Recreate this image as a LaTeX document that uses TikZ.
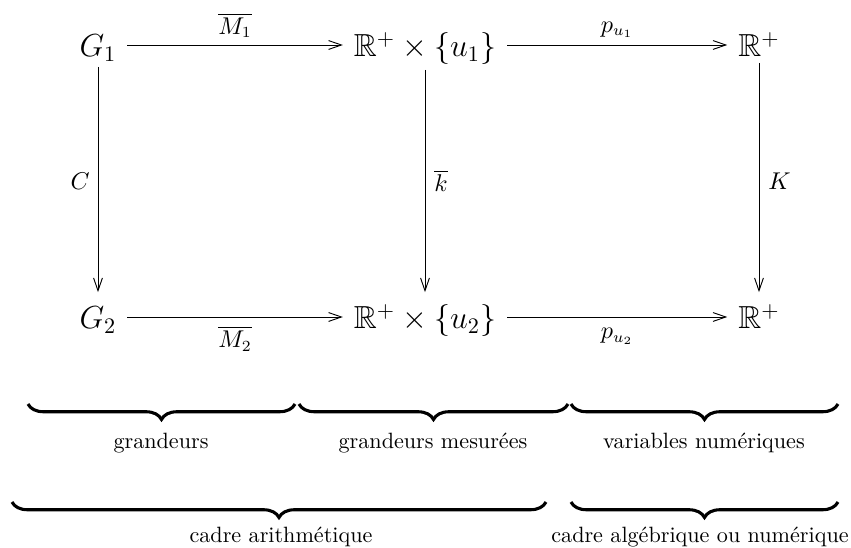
\documentclass[tikz,border=0pt]{standalone}
\usepackage{amssymb}
\usetikzlibrary{arrows.meta,decorations.pathreplacing}
\begin{document}
\begin{tikzpicture}[x=0.4516pt,y=-0.4516pt,
  obj/.style={inner sep=0pt, outer xsep=5pt, outer ysep=0pt, text height=13pt, text depth=2.2pt, font=\fontsize{14.4}{17}\selectfont},
  lab/.style={inner sep=0pt, font=\fontsize{10.5}{12}\selectfont},
  arr/.style={line width=0.42pt, -{Straight Barb[length=5.8pt,width=4pt]}},
  brc/.style={decorate, decoration={brace, mirror, amplitude=7pt}, line width=1.4pt},
  txt/.style={inner sep=0pt, font=\fontsize{10}{12}\selectfont}]
\useasboundingbox (0,0) rectangle (851,548);
% objects
\node[obj] (G1) at (98,45) {$G_1$};
\node[obj] (R1) at (425,45) {$\mathbb{R}^+\times\{u_1\}$};
\node[obj] (P1) at (759,45) {$\mathbb{R}^+$};
\node[obj] (G2) at (98,317) {$G_2$};
\node[obj] (R2) at (425,317) {$\mathbb{R}^+\times\{u_2\}$};
\node[obj] (P2) at (759,317) {$\mathbb{R}^+$};
% arrows
\draw[arr] (G1) -- (R1);
\draw[arr] (R1) -- (P1);
\draw[arr] (G2) -- (R2);
\draw[arr] (R2) -- (P2);
\draw[arr, shorten <=2.3pt, shorten >=3.6pt] (G1) -- (G2);
\draw[arr, shorten <=3.6pt, shorten >=3.6pt] (R1) -- (R2);
\draw[arr, shorten <=0.5pt, shorten >=3.6pt] (P1) -- (P2);
% arrow labels
\path (G1) -- node[lab, anchor=south, yshift=3pt] (lM1) {$\overline{M_1}$} (R1);
\path (R1) -- node[lab, anchor=south, yshift=3pt] (lp1) {$p_{u_1}$} (P1);
\path (G2) -- node[lab, anchor=north, yshift=-4pt] (lM2) {$\overline{M_2}$} (R2);
\path (R2) -- node[lab, anchor=north, yshift=-5pt] (lp2) {$p_{u_2}$} (P2);
\path (G1) -- node[lab, anchor=east, xshift=-3.5pt] (lC) {$C$} (G2);
\path (R1) -- node[lab, anchor=west, xshift=4pt] (lk) {$\overline{k}$} (R2);
\path (P1) -- node[lab, anchor=west, xshift=4pt] (lK) {$K$} (P2);
% braces row 1
\coordinate (a1) at (28,404); \coordinate (a2) at (295,404);
\coordinate (b1) at (299,404); \coordinate (b2) at (568,404);
\coordinate (c1) at (571,404); \coordinate (c2) at (838,404);
\draw[brc] (a1) -- (a2);
\draw[brc] (b1) -- (b2);
\draw[brc] (c1) -- (c2);
\node[txt] (tg) at (161,443) {grandeurs};
\node[txt] (tgm) at (433,443) {grandeurs mesurées};
\node[txt] (tvn) at (704,443) {variables numériques};
% braces row 2
\coordinate (d1) at (12,502); \coordinate (d2) at (546,502);
\coordinate (e1) at (571,502); \coordinate (e2) at (838,502);
\draw[brc] (d1) -- (d2);
\draw[brc] (e1) -- (e2);
\node[txt] (tca) at (281,537) {cadre arithmétique};
\node[txt] (tcn) at (700,537) {cadre algébrique ou numérique};
\end{tikzpicture}
\end{document}
